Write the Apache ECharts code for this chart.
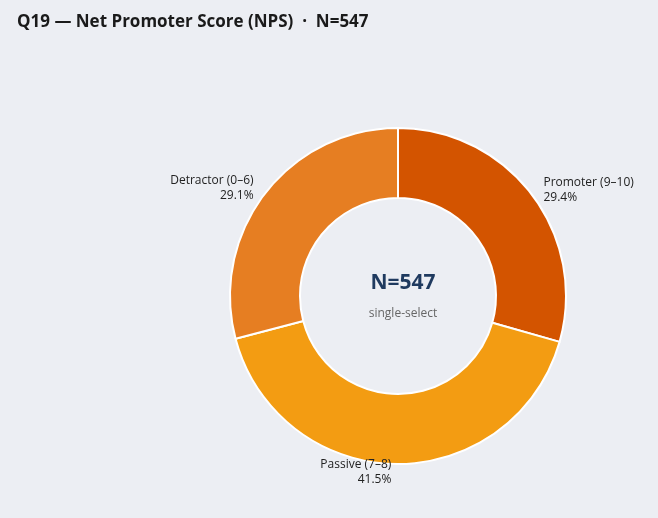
<!DOCTYPE html>
<html><head><meta charset="utf-8">
<script src="https://cdn.jsdelivr.net/npm/echarts@6/dist/echarts.min.js"></script>
<style>html,body{margin:0;background:#eceef3}#c{width:658px;height:518px}</style>
</head><body><div id="c"></div>
<script>
var categories = ['Promoter (9–10)', 'Passive (7–8)', 'Detractor (0–6)'];
var values = [29.4, 41.5, 29.1];
var colors = ['#d35400', '#f39c12', '#e67e22'];

var chart = echarts.init(document.getElementById('c'));
var data = [];
for (var i = 0; i < categories.length; i++) {
    data.push({name: categories[i], value: values[i], itemStyle: {color: colors[i]}});
}
chart.setOption({
    backgroundColor: '#eceef3',
    title: [{
        text: 'Q19 — Net Promoter Score (NPS)  ·  N=547',
        left: 12, top: 9,
        textStyle: {fontSize: 17, fontWeight: 'bold', color: '#1a1a1a', fontFamily: 'Open Sans'}
    }, {
        text: 'N=547',
        subtext: 'single-select',
        left: 398, top: 268, textAlign: 'center',
        itemGap: 14,
        textStyle: {fontSize: 21, fontWeight: 'bold', color: '#1f3a5f', fontFamily: 'Open Sans'},
        subtextStyle: {fontSize: 12, color: '#666', fontFamily: 'Open Sans'}
    }],
    series: [{
        type: 'pie',
        center: [398, 296],
        radius: [98, 168],
        startAngle: 90,
        clockwise: true,
        itemStyle: {borderColor: '#ffffff', borderWidth: 2},
        label: {
            show: true,
            position: 'outside',
            formatter: function (p) { return p.name + '\n' + p.value.toFixed(1) + '%'; },
            fontSize: 12, color: '#222', lineHeight: 15, fontFamily: 'Open Sans'
        },
        labelLine: {show: false, length: 8, length2: 0},
        emphasis: {disabled: true},
        data: data
    }]
});
</script></body></html>
